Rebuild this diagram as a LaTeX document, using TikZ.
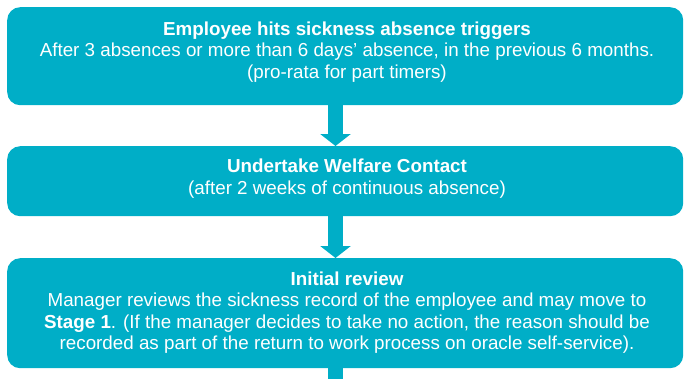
\documentclass[tikz,border=0pt]{standalone}
\usepackage{fontspec}
\setmainfont{Liberation Sans}
\usetikzlibrary{arrows.meta}
\definecolor{teal1}{HTML}{00AEC7}
\tikzset{
  box/.style={fill=teal1, draw=none, rounded corners=13pt, anchor=north west, inner sep=0pt},
  txt/.style={text=white, align=center, font=\fontsize{18.8}{21.5}\selectfont, inner sep=0pt, anchor=north},
  flow/.style={draw=teal1, line width=15pt, -{Triangle[width=30pt,length=12pt]}},
  stem/.style={draw=teal1, line width=15pt}
}
\begin{document}
\begin{tikzpicture}[x=1pt,y=-1pt]
\useasboundingbox (0,0) rectangle (684,378);
\node[box, minimum width=676pt, minimum height=98pt] (b1) at (7,7) {};
\node[box, minimum width=676pt, minimum height=70pt] (b2) at (7,146) {};
\node[box, minimum width=676pt, minimum height=110pt] (b3) at (7,258) {};
\node[txt] (t1) at (347,21.5) {\textbf{Employee hits sickness absence triggers}\\After 3 absences or more than 6 days’ absence, in the previous 6 months.\\(pro-rata for part timers)};
\node[txt] (t2) at (347,159) {\textbf{Undertake Welfare Contact}\\(after 2 weeks of continuous absence)};
\node[txt] (t3) at (347,271.5) {\textbf{Initial review}\\Manager reviews the sickness record of the employee and may move to\\\textbf{Stage 1}. (If the manager decides to take no action, the reason should be\\recorded as part of the return to work process on oracle self-service).};
\coordinate (end) at (335.5,380);
\draw[flow] (b1.south -| 335.5,0) -- (b2.north -| 335.5,0);
\draw[flow] (b2.south -| 335.5,0) -- (b3.north -| 335.5,0);
\draw[stem] (b3.south -| end) -- (end);
\end{tikzpicture}
\end{document}
